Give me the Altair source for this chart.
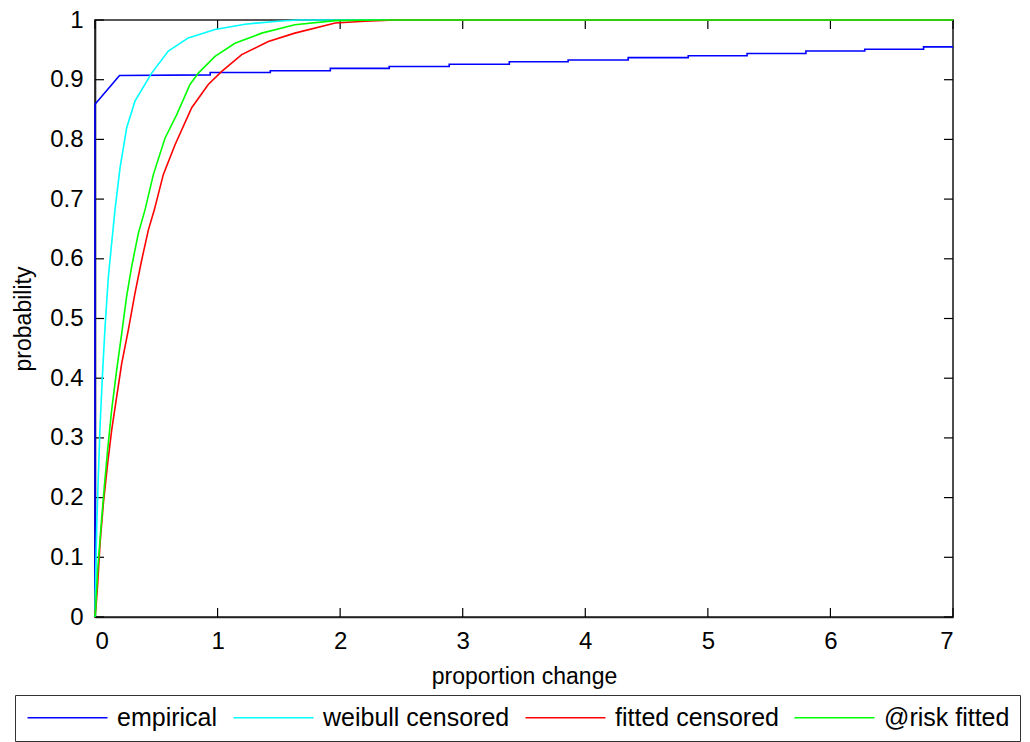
import altair as alt
import pandas as pd

# ---- data ----
emp_x = [0, 0, 0.2, 0.94, 0.94, 1.43, 1.43, 1.92, 1.92, 2.40, 2.40, 2.89, 2.89, 3.38, 3.38,
         3.86, 3.86, 4.35, 4.35, 4.84, 4.84, 5.32, 5.32, 5.80, 5.80, 6.28, 6.28, 6.76, 6.76, 7.0]
emp_y = [0.045, 0.859, 0.907, 0.908, 0.912, 0.912, 0.915, 0.915, 0.919, 0.919, 0.922, 0.922,
         0.926, 0.926, 0.930, 0.930, 0.933, 0.933, 0.937, 0.937, 0.940, 0.940, 0.944, 0.944,
         0.948, 0.948, 0.951, 0.951, 0.955, 0.955]

wei_x = [0, 0.005, 0.014, 0.027, 0.041, 0.06, 0.082, 0.109, 0.136, 0.163, 0.204, 0.258,
         0.326, 0.462, 0.598, 0.761, 0.979, 1.224, 1.49, 1.65, 7.0]
wei_y = [0, 0.068, 0.151, 0.235, 0.319, 0.402, 0.486, 0.570, 0.626, 0.682, 0.752, 0.819,
         0.864, 0.911, 0.948, 0.970, 0.984, 0.993, 0.998, 1.0, 1.0]

fit_x = [0, 0.008, 0.022, 0.041, 0.068, 0.103, 0.136, 0.177, 0.218, 0.272, 0.326, 0.381,
         0.435, 0.484, 0.557, 0.653, 0.789, 0.924, 1.034, 1.197, 1.414, 1.63, 1.96, 2.2,
         2.45, 7.0]
fit_y = [0.005, 0.017, 0.056, 0.123, 0.190, 0.257, 0.313, 0.369, 0.425, 0.481, 0.542, 0.598,
         0.648, 0.682, 0.741, 0.791, 0.853, 0.892, 0.914, 0.942, 0.964, 0.978, 0.995, 0.998,
         1.0, 1.0]

risk_x = [0, 0.005, 0.022, 0.049, 0.076, 0.103, 0.136, 0.177, 0.218, 0.258, 0.299, 0.354,
          0.408, 0.476, 0.571, 0.666, 0.775, 0.843, 0.979, 1.142, 1.36, 1.63, 1.96, 2.3, 7.0]
risk_y = [0, 0.012, 0.079, 0.151, 0.218, 0.280, 0.347, 0.414, 0.475, 0.537, 0.587, 0.643,
          0.682, 0.741, 0.802, 0.841, 0.892, 0.911, 0.939, 0.961, 0.978, 0.992, 0.999, 1.0, 1.0]

series_names = ["empirical", "weibull censored", "fitted censored", "@risk fitted"]
series_colors = ["#0000FF", "#00FFFF", "#FF0000", "#00FF00"]

x_ticks = [0, 1, 2, 3, 4, 5, 6, 7]
y_ticks = [0, 0.1, 0.2, 0.3, 0.4, 0.5, 0.6, 0.7, 0.8, 0.9, 1.0]

# ---- build table ----
rows = []
for name, xs, ys in zip(series_names, [emp_x, wei_x, fit_x, risk_x], [emp_y, wei_y, fit_y, risk_y]):
    for i, (xv, yv) in enumerate(zip(xs, ys)):
        rows.append({"series": name, "x": xv, "y": yv, "i": i})
df = pd.DataFrame(rows)

W, H = 858, 597
FONT = "Liberation Sans"
TL = 9

xs = alt.Scale(domain=[0, 7], nice=False, zero=False)
ys = alt.Scale(domain=[0, 1], nice=False, zero=False)

xt = pd.DataFrame({"v": x_ticks})
yt = pd.DataFrame({"v": y_ticks})

tick_bottom = alt.Chart(xt).mark_rule(color="black", strokeWidth=1.2).encode(
    x=alt.X("v:Q", scale=xs, title="proportion change",
            axis=alt.Axis(values=x_ticks, format="d", grid=False, ticks=False, tickSize=0,
                          labelPadding=12, titlePadding=12)),
    y=alt.value(H), y2=alt.value(H - TL))
tick_top = alt.Chart(xt).mark_rule(color="black", strokeWidth=1.2).encode(
    x=alt.X("v:Q", scale=xs), y=alt.value(0), y2=alt.value(TL))
tick_left = alt.Chart(yt).mark_rule(color="black", strokeWidth=1.2).encode(
    y=alt.Y("v:Q", scale=ys, title="probability",
            axis=alt.Axis(values=y_ticks, format=".1~f", grid=False, ticks=False, tickSize=0,
                          labelPadding=12, titlePadding=14)),
    x=alt.value(0), x2=alt.value(TL))
tick_right = alt.Chart(yt).mark_rule(color="black", strokeWidth=1.2).encode(
    y=alt.Y("v:Q", scale=ys), x=alt.value(W), x2=alt.value(W - TL))

lines = alt.Chart(df).mark_line(strokeWidth=1.6).encode(
    x=alt.X("x:Q", scale=xs),
    y=alt.Y("y:Q", scale=ys),
    color=alt.Color("series:N",
                    scale=alt.Scale(domain=series_names, range=series_colors),
                    legend=alt.Legend(title=None, orient="none", legendX=-80, legendY=675,
                                      direction="horizontal", columns=4,
                                      symbolType="M-1,0H7", symbolSize=400, symbolStrokeWidth=1.6,
                                      labelFontSize=25, labelFont=FONT, labelColor="black",
                                      labelLimit=500, labelOffset=67, columnPadding=12,
                                      padding=10,
                                      strokeColor="#333333", fillColor="white")),
    order="i:Q",
)

chart = alt.layer(tick_bottom, tick_top, tick_left, tick_right, lines).properties(
    width=W, height=H,
    autosize=alt.AutoSizeParams(type="none"),
    padding={"left": 87, "top": 12, "right": 69, "bottom": 125},
).configure_view(
    stroke="#222222", strokeWidth=1.6
).configure_axis(
    domain=True, domainColor="#222222", domainWidth=1.6, zindex=0,
    labelFont=FONT, labelFontSize=24, labelColor="black",
    titleFont=FONT, titleFontSize=23, titleFontWeight="normal", titleColor="black",
)

chart.save("out.html", embed_options={"renderer": "svg", "actions": False})
